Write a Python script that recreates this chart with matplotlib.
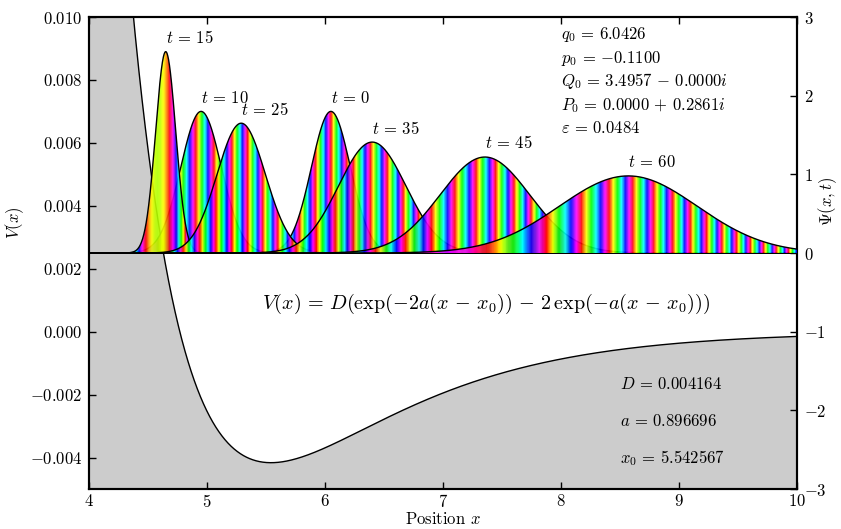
import numpy as np
import matplotlib
matplotlib.use("Agg")
from matplotlib import pyplot as plt
from matplotlib.patches import Polygon
from matplotlib.ticker import FuncFormatter

plt.rcParams['font.family'] = 'serif'
plt.rcParams['font.serif'] = ['cmr10']
plt.rcParams['mathtext.fontset'] = 'cm'
plt.rcParams['axes.formatter.use_mathtext'] = True
plt.rcParams['font.size'] = 12

# Morse potential parameters (as printed on the chart)
D = 0.004164
a = 0.896696
x0 = 5.542567

# wavepacket snapshots
times = [0, 10, 15, 25, 35, 45, 60]
centers = [6.05, 4.95, 4.65, 5.29, 6.40, 7.355, 8.57]
heights = [1.80, 1.80, 2.56, 1.65, 1.41, 1.22, 0.98]
widths = [0.165, 0.172, 0.085, 0.205, 0.285, 0.38, 0.585]
# phase colouring: hue cycles per unit x, chirp, phase origin, hue offset
wavenum = [7.5, 6.5, 0.0, 7.6, 7.0, 6.0, 5.2]
chirp = [0.0, 0.5, -22.0, 0.6, 1.0, 1.3, 1.7]
phase_origin = [6.05, 4.95, 4.58, 5.29, 6.40, 7.355, 8.57]
hue_offset = [0.0, 0.3, 0.22, 0.6, 0.1, 0.45, 0.8]

params_text = [r'$q_0 \,=\, 6.0426$', r'$p_0 \,=\, {-}0.1100$', r'$Q_0 \,=\, 3.4957 \,-\, 0.0000i$',
               r'$P_0 \,=\, 0.0000 \,+\, 0.2861i$', r'$\varepsilon \,=\, 0.0484$']
params_y = [2.72, 2.42, 2.12, 1.82, 1.52]
morse_text = [r'$D \,=\, 0.004164$', r'$a \,=\, 0.896696$', r'$x_0 \,=\, 5.542567$']
morse_y = [-0.00182, -0.00300, -0.00417]

fig = plt.figure(figsize=(8.41, 5.29), dpi=100)
ax = fig.add_axes([89/841, 1-489/529, 708/841, 472/529])
ax2 = ax.twinx()

x = np.linspace(4, 10, 3000)
V = D*(np.exp(-2*a*(x-x0)) - 2*np.exp(-a*(x-x0)))
ax.fill_between(x, V, -0.005, color='#cccccc', lw=0)
ax.plot(x, V, 'k', lw=1)
ax.set_xlim(4, 10)
ax.set_ylim(-0.005, 0.010)
ax.set_xticks(range(4, 11))
ax.set_yticks([-0.004, -0.002, 0.0, 0.002, 0.004, 0.006, 0.008, 0.010])
ax.yaxis.set_major_formatter(FuncFormatter(lambda v, p: r'$%.3f$' % v))
ax.xaxis.set_major_formatter(FuncFormatter(lambda v, p: r'$%d$' % v))
ax.tick_params(direction='in', top=True, right=False, length=5, width=1)
ax.tick_params(axis='x', pad=3)
ax.tick_params(axis='y', pad=5)
ax.set_xlabel(r'Position $x$', va='center')
ax.xaxis.set_label_coords(0.5, -0.064)
ax.set_ylabel(r'$V(x)$', va='center')
ax.yaxis.set_label_coords(-0.1045, 0.5636)

cmap = plt.get_cmap('hsv')
for i, t in enumerate(times):
    q = centers[i]
    env = heights[i]*np.exp(-(x-q)**2/(2*widths[i]**2))
    d = x - phase_origin[i]
    hue = np.mod(hue_offset[i] + wavenum[i]*d + chirp[i]*d**2, 1.0)
    rgb = cmap(hue)[None, :, :3]
    poly = Polygon(np.column_stack([np.r_[x, x[::-1]], np.r_[env, np.zeros_like(x)]]),
                   closed=True, facecolor='none', edgecolor='none', transform=ax2.transData)
    ax2.add_patch(poly)
    im = ax2.imshow(rgb, extent=(4, 10, 0, 3), aspect='auto', alpha=0.9,
                    interpolation='nearest', zorder=2+2*i)
    im.set_clip_path(poly)
    ax2.plot(x, env, 'k', lw=1, zorder=3+2*i)
    ax2.annotate(r'$t \,=\, %d$' % t, (q, heights[i]), xytext=(0, 4), textcoords='offset points',
                 ha='left', va='bottom', zorder=20)

ax2.set_xlim(4, 10)
ax2.set_ylim(-3, 3)
ax2.set_yticks(range(-3, 4))
ax2.yaxis.set_major_formatter(FuncFormatter(lambda v, p: r'$%d$' % v))
ax2.tick_params(direction='in', length=5, width=1, pad=5)
ax2.set_ylabel(r'$\Psi(x,t)$', va='center')
ax2.yaxis.set_label_coords(1.0438, 0.61)

for s, yy in zip(params_text, params_y):
    ax2.text(8.0, yy, s, ha='left', va='baseline')
for s, yy in zip(morse_text, morse_y):
    ax.text(8.5, yy, s, ha='left', va='baseline')
ax.text(5.47, 0.00072,
        r'$V(x) \,=\, D(\exp(-2a(x \,-\, x_0)) \,-\, 2\,\exp(-a(x \,-\, x_0)))$',
        ha='left', va='baseline', fontsize=14.5)

for axis in (ax, ax2):
    for sp in axis.spines.values():
        sp.set_linewidth(1.5)

fig.savefig('out.png', dpi=100)
